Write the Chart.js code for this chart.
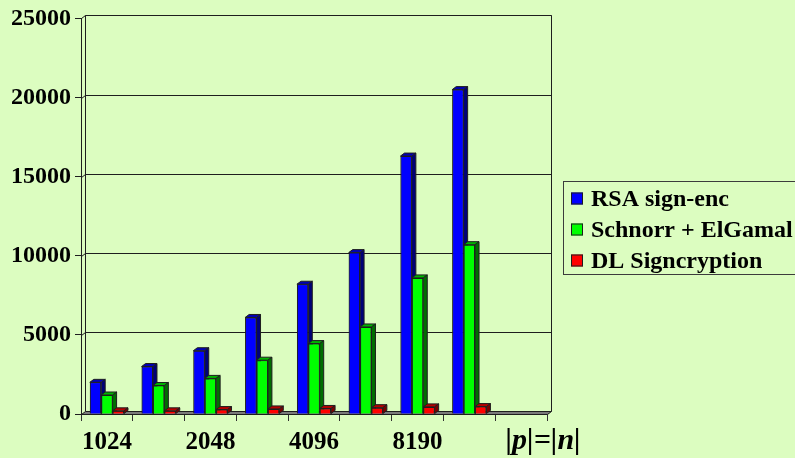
<!DOCTYPE html>
<html>
<head>
<meta charset="utf-8">
<script src="https://cdn.jsdelivr.net/npm/chart.js@4/dist/chart.umd.min.js"></script>
<style>
  html, body { margin: 0; padding: 0; background: #dcfdc0; }
  canvas { display: block; }
</style>
</head>
<body>
<canvas id="chart" width="795" height="458"></canvas>
<script>
// Key sizes (bits); every other label is left blank, the last slot is empty
const categories = ['1024', '', '2048', '', '4096', '', '8190', '', ''];
const axisTitle = '|p|=|n|';

// Computational cost per scheme
const rsaSignEnc     = [2000, 3000, 4000, 6100, 8200, 10200, 16300, 20500];
const schnorrElGamal = [1200, 1800, 2250, 3400, 4450, 5500, 8600, 10700];
const dlSigncryption = [200, 200, 280, 320, 350, 400, 450, 470];

const seriesNames = ['RSA sign-enc', 'Schnorr + ElGamal', 'DL Signcryption'];
const yTickValues = [0, 5000, 10000, 15000, 20000, 25000];

// Face colours: front, top, side
const palette = [
  { front: '#0000ff', top: '#0000b4', side: '#000078' },
  { front: '#00ff00', top: '#00b400', side: '#006e00' },
  { front: '#ff0000', top: '#b40000', side: '#780000' }
];

const FONT = '"Liberation Serif", "Times New Roman", serif';
const DX = 4, DY = 3;            // depth offset of the 3-D walls and bars
const EDGE = '#1e1e1e';

// Back wall, left wall and floor slab with gridlines on the back wall
const wallsPlugin = {
  id: 'walls',
  beforeDatasetsDraw(chart) {
    const { ctx, chartArea: a, scales: { y } } = chart;
    ctx.save();
    ctx.lineWidth = 1;
    ctx.strokeStyle = EDGE;
    const l = a.left + 0.5, r = a.right + 0.5;
    const bot = Math.round(a.bottom) + 0.5;
    const topBack = Math.round(y.getPixelForValue(y.max) - DY) + 0.5;
    const botBack = bot - DY;
    // gridlines on the back wall and their continuation on the left wall
    yTickValues.forEach(v => {
      if (v === 0) return;
      const py = Math.round(y.getPixelForValue(v) - DY) + 0.5;
      ctx.beginPath();
      ctx.moveTo(l + DX, py);
      ctx.lineTo(r + DX, py);
      ctx.moveTo(l, py + DY);
      ctx.lineTo(l + DX, py);
      ctx.stroke();
    });
    // back wall outline
    ctx.beginPath();
    ctx.moveTo(l + DX, botBack);
    ctx.lineTo(l + DX, topBack);
    ctx.lineTo(r + DX, topBack);
    ctx.lineTo(r + DX, botBack);
    ctx.stroke();
    // floor slab
    ctx.beginPath();
    ctx.moveTo(l, bot);
    ctx.lineTo(r, bot);
    ctx.lineTo(r + DX, botBack);
    ctx.lineTo(l + DX, botBack);
    ctx.closePath();
    ctx.fillStyle = '#7a7a7a';
    ctx.fill();
    ctx.stroke();
    ctx.restore();
  }
};

// Repaints each bar in front-to-back order and adds its top and side faces
const bars3dPlugin = {
  id: 'bars3d',
  afterDatasetsDraw(chart) {
    const ctx = chart.ctx;
    const metas = chart.data.datasets.map((d, i) => chart.getDatasetMeta(i));
    const count = chart.data.labels.length;
    ctx.save();
    ctx.lineWidth = 1;
    ctx.strokeStyle = EDGE;
    for (let j = 0; j < count; j++) {
      metas.forEach((meta, i) => {
        const el = meta.data[j];
        if (!el) return;
        const { x, y, base, width } = el.getProps(['x', 'y', 'base', 'width'], true);
        if (!isFinite(y)) return;
        el.draw(ctx);
        const lft = x - width / 2, rgt = x + width / 2;
        const c = palette[i];
        ctx.beginPath();
        ctx.moveTo(lft, y);
        ctx.lineTo(lft + DX, y - DY);
        ctx.lineTo(rgt + DX, y - DY);
        ctx.lineTo(rgt, y);
        ctx.closePath();
        ctx.fillStyle = c.top;
        ctx.fill();
        ctx.stroke();
        ctx.beginPath();
        ctx.moveTo(rgt, y);
        ctx.lineTo(rgt + DX, y - DY);
        ctx.lineTo(rgt + DX, base - DY);
        ctx.lineTo(rgt, base);
        ctx.closePath();
        ctx.fillStyle = c.side;
        ctx.fill();
        ctx.stroke();
      });
    }
    ctx.restore();
  }
};

// Boxed legend on the right and the axis title beside the last category
const legendPlugin = {
  id: 'boxLegend',
  afterDraw(chart) {
    const { ctx, scales: { x } } = chart;
    ctx.save();
    ctx.strokeStyle = '#3c3c3c';
    ctx.lineWidth = 1;
    ctx.strokeRect(563.5, 181.5, 260, 93);
    ctx.font = 'bold 24px ' + FONT;
    ctx.textBaseline = 'middle';
    ctx.textAlign = 'left';
    chart.data.datasets.forEach((ds, i) => {
      const cy = 198.5 + i * 31;
      ctx.fillStyle = ds.backgroundColor;
      ctx.fillRect(571, cy - 6, 12, 12);
      ctx.strokeStyle = EDGE;
      ctx.strokeRect(571.5, cy - 5.5, 11, 11);
      ctx.fillStyle = '#000';
      ctx.fillText(ds.label, 591, cy + 1);
    });
    // axis title
    ctx.font = 'italic bold 30px ' + FONT;
    ctx.textAlign = 'center';
    ctx.fillText(axisTitle, x.getPixelForValue(categories.length - 1) + 22, 441);
    ctx.restore();
  }
};

const seriesValues = [rsaSignEnc, schnorrElGamal, dlSigncryption];

new Chart(document.getElementById('chart'), {
  type: 'bar',
  data: {
    labels: categories,
    datasets: seriesValues.map((vals, i) => ({
      label: seriesNames[i],
      data: vals,
      backgroundColor: palette[i].front,
      borderColor: EDGE,
      borderWidth: 1,
      barPercentage: 1.0,
      categoryPercentage: 0.66
    }))
  },
  options: {
    responsive: false,
    animation: false,
    devicePixelRatio: 1,
    layout: { padding: { top: 16, right: 248, left: 0, bottom: 0 } },
    plugins: { legend: { display: false }, tooltip: { enabled: false } },
    scales: {
      x: {
        offset: true,
        grid: { drawOnChartArea: false, drawTicks: true, tickLength: 7, color: '#303030', offset: true },
        border: { display: false },
        ticks: {
          autoSkip: false,
          maxRotation: 0,
          padding: 7,
          color: '#000',
          font: { family: FONT, size: 25, weight: 'bold' }
        },
        afterFit(s) { s.height = 44; }
      },
      y: {
        min: 0,
        max: 25000,
        afterBuildTicks(s) { s.ticks = yTickValues.map(v => ({ value: v })); },
        grid: { drawOnChartArea: false, drawTicks: true, tickLength: 6, color: '#1e1e1e' },
        border: { display: true, color: '#1e1e1e', width: 1 },
        ticks: {
          padding: 4,
          color: '#000',
          font: { family: FONT, size: 24, weight: 'bold' },
          callback: v => String(v)
        },
        afterFit(s) { s.width = 81; }
      }
    }
  },
  plugins: [wallsPlugin, bars3dPlugin, legendPlugin]
});
</script>
</body>
</html>
